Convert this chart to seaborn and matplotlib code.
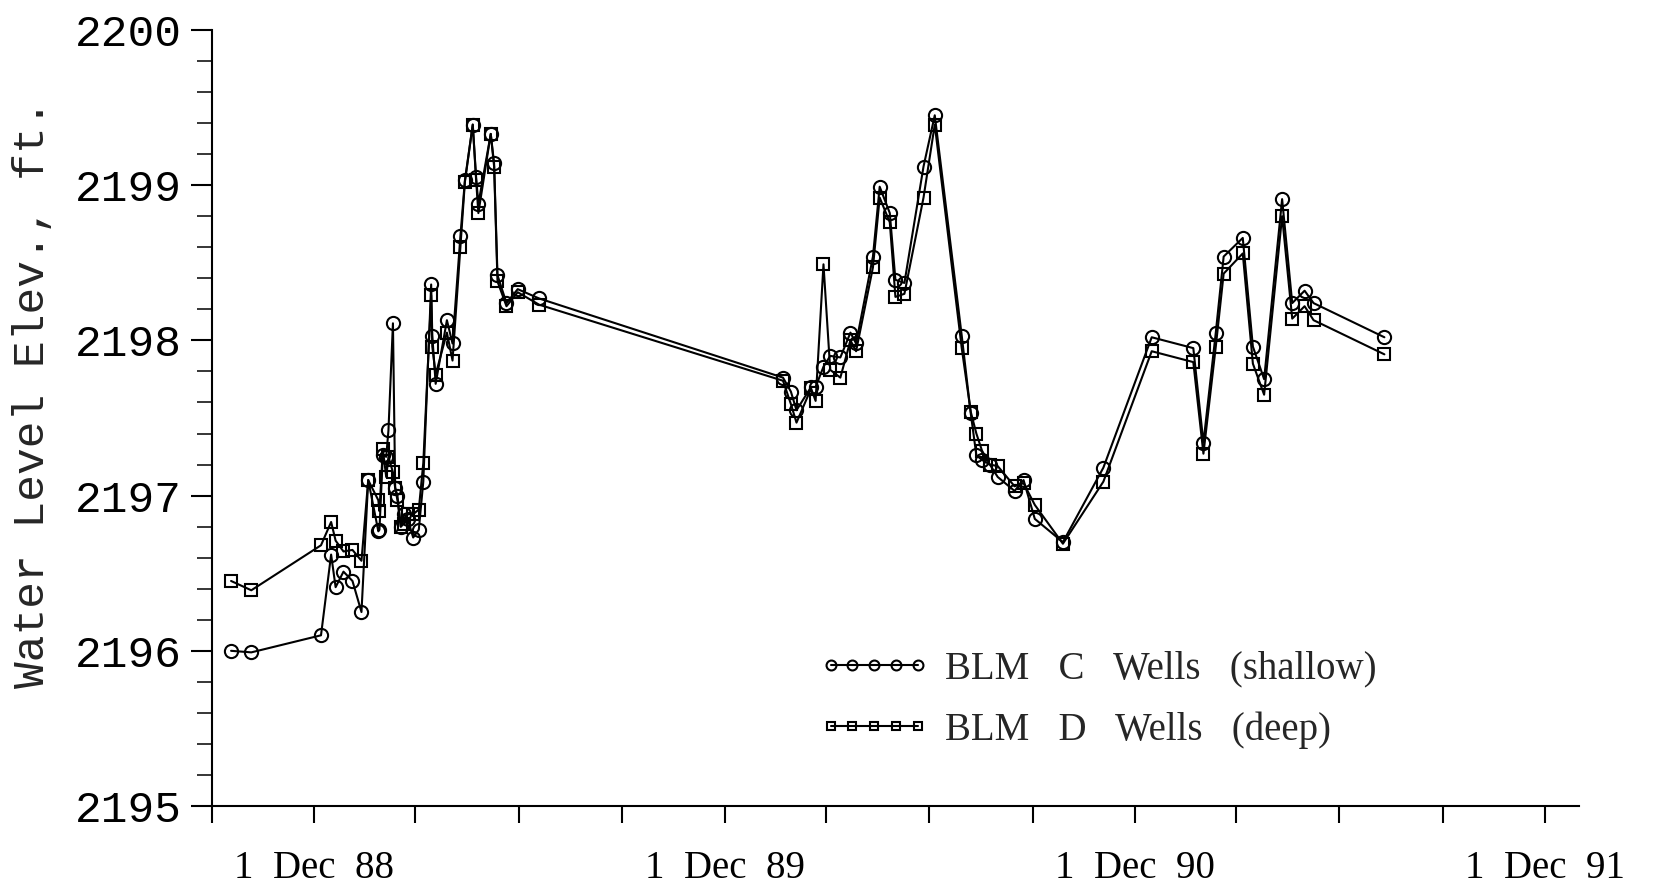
import pandas as pd
import matplotlib
matplotlib.use("Agg")
import matplotlib.pyplot as plt
import matplotlib.dates as mdates
from matplotlib.ticker import MultipleLocator
import seaborn as sns

sns.set_theme(style="ticks")
plt.rcParams["font.family"] = ["Liberation Serif", "DejaVu Serif"]

### Data ###

dates = [
    "1988-09-18", "1988-10-06", "1988-12-07", "1988-12-16", "1988-12-20", "1988-12-27",
    "1989-01-04", "1989-01-12", "1989-01-18", "1989-01-27", "1989-01-28", "1989-01-31",
    "1989-02-03", "1989-02-05", "1989-02-09", "1989-02-11", "1989-02-13", "1989-02-16",
    "1989-02-19", "1989-02-22", "1989-02-27", "1989-03-04", "1989-03-08", "1989-03-15",
    "1989-03-16", "1989-03-19", "1989-03-29", "1989-04-03", "1989-04-10", "1989-04-14",
    "1989-04-21", "1989-04-24", "1989-04-26", "1989-05-07", "1989-05-10", "1989-05-13",
    "1989-05-21", "1989-05-31", "1989-06-19",
    "1990-01-22", "1990-01-29", "1990-02-03", "1990-02-16", "1990-02-20", "1990-02-27",
    "1990-03-05", "1990-03-14", "1990-03-23", "1990-03-28", "1990-04-12", "1990-04-18",
    "1990-04-27", "1990-05-02", "1990-05-10", "1990-05-27", "1990-06-06", "1990-06-30",
    "1990-07-08", "1990-07-13", "1990-07-18", "1990-07-25", "1990-08-01", "1990-08-16",
    "1990-08-24", "1990-09-03", "1990-09-28", "1990-11-03", "1990-12-16",
    "1991-01-22", "1991-01-31", "1991-02-11", "1991-02-18", "1991-03-07", "1991-03-16",
    "1991-03-26", "1991-04-11", "1991-04-20", "1991-05-01", "1991-05-09", "1991-07-11",
]

shallow_c = [
    2196.00, 2195.99, 2196.10, 2196.62, 2196.41, 2196.51,
    2196.45, 2196.25, 2197.10, 2196.77, 2196.78, 2197.26,
    2197.25, 2197.42, 2198.11, 2197.05, 2197.00, 2196.80,
    2196.88, 2196.85, 2196.73, 2196.78, 2197.09, 2198.36,
    2198.03, 2197.72, 2198.13, 2197.98, 2198.67, 2199.03,
    2199.39, 2199.05, 2198.88, 2199.33, 2199.14, 2198.42,
    2198.24, 2198.33, 2198.27,
    2197.76, 2197.67, 2197.55, 2197.70, 2197.70, 2197.83,
    2197.90, 2197.89, 2198.05, 2197.98, 2198.54, 2198.99,
    2198.82, 2198.39, 2198.37, 2199.12, 2199.45, 2198.03,
    2197.53, 2197.26, 2197.23, 2197.20, 2197.12, 2197.03,
    2197.10, 2196.85, 2196.70, 2197.18, 2198.02,
    2197.95, 2197.34, 2198.05, 2198.54, 2198.66, 2197.96,
    2197.75, 2198.91, 2198.24, 2198.32, 2198.24, 2198.02,
]

deep_d = [
    2196.45, 2196.39, 2196.68, 2196.83, 2196.71, 2196.64,
    2196.65, 2196.58, 2197.10, 2196.97, 2196.90, 2197.30,
    2197.12, 2197.25, 2197.15, 2197.05, 2196.97, 2196.80,
    2196.82, 2196.88, 2196.88, 2196.91, 2197.21, 2198.29,
    2197.96, 2197.78, 2198.05, 2197.87, 2198.60, 2199.02,
    2199.39, 2199.03, 2198.82, 2199.33, 2199.12, 2198.38,
    2198.22, 2198.31, 2198.23,
    2197.74, 2197.59, 2197.47, 2197.69, 2197.61, 2198.49,
    2197.81, 2197.76, 2198.00, 2197.93, 2198.47, 2198.92,
    2198.76, 2198.28, 2198.30, 2198.92, 2199.39, 2197.95,
    2197.54, 2197.40, 2197.29, 2197.20, 2197.19, 2197.06,
    2197.08, 2196.94, 2196.69, 2197.09, 2197.93,
    2197.86, 2197.27, 2197.96, 2198.43, 2198.56, 2197.85,
    2197.65, 2198.80, 2198.14, 2198.22, 2198.13, 2197.91,
]

series_labels = ["BLM   C   Wells   (shallow)", "BLM   D   Wells   (deep)"]
x_tick_dates = ["1988-12-01", "1989-12-01", "1990-12-01", "1991-12-01"]
x_tick_labels = ["1  Dec  88", "1  Dec  89", "1  Dec  90", "1  Dec  91"]
y_ticks = [2195, 2196, 2197, 2198, 2199, 2200]
y_label = "Water Level Elev., ft."

df = pd.DataFrame({"Date": pd.to_datetime(dates), "C": shallow_c, "D": deep_d})

### Plot ###

fig = plt.figure(figsize=(16.69, 8.88), dpi=100)
ax = fig.add_axes([0.127, 0.0923, 0.819, 0.874])

for col, mk, ms, lab in [("C", "o", 9.5, series_labels[0]), ("D", "s", 8.5, series_labels[1])]:
    sns.lineplot(data=df, x="Date", y=col, ax=ax, color="black", lw=1.5,
                 marker=mk, ms=ms, mfc="none", mec="black", mew=1.5,
                 estimator=None, errorbar=None, sort=False, label=lab)

ax.set_xlim(pd.Timestamp("1988-09-01"), pd.Timestamp("1991-12-31"))
ax.set_xticks(pd.to_datetime(x_tick_dates), labels=x_tick_labels, fontsize=28)
ax.xaxis.set_minor_locator(mdates.MonthLocator(bymonth=[3, 6, 9]))
ax.set_xlabel("")

ax.set_ylim(2195, 2200)
ax.set_yticks(y_ticks, labels=[str(v) for v in y_ticks],
              fontfamily="Liberation Mono", fontsize=32)
ax.yaxis.set_minor_locator(MultipleLocator(0.2))
ax.set_ylabel(y_label, fontfamily="Liberation Mono", fontsize=32)
ax.yaxis.set_label_coords(-0.116, 0.531)

for axis in ["top", "right"]:
    ax.spines[axis].set_visible(False)
for axis in ["left", "bottom"]:
    ax.spines[axis].set_linewidth(1.5)
    ax.spines[axis].set_color("black")

ax.tick_params(axis="y", which="major", length=15, width=1.5, pad=7, colors="black")
ax.tick_params(axis="y", which="minor", length=11, width=1.3)
ax.tick_params(axis="x", which="both", length=12, width=1.5, pad=20, colors="black")

ax.legend(loc="center left", bbox_to_anchor=(0.444, 0.137), frameon=False,
          numpoints=5, markerscale=0.75, handlelength=2.85, handletextpad=0.4,
          labelspacing=0.6, fontsize=28, borderpad=0, borderaxespad=0)

fig.savefig("out.png", dpi=100)
